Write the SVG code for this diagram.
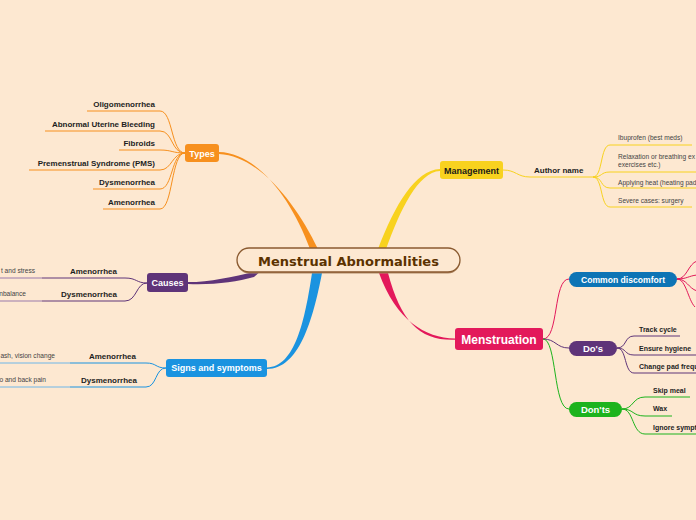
<svg xmlns="http://www.w3.org/2000/svg" width="696" height="520" viewBox="0 0 696 520">
<style>
.leaf{font-family:"Liberation Sans",Arial,sans-serif;font-weight:bold;font-size:8px;fill:#1e1e1e}
.leaf7{font-family:"Liberation Sans",Arial,sans-serif;font-weight:bold;font-size:7px;fill:#1e1e1e}
.sub{font-family:"Liberation Sans",Arial,sans-serif;font-size:6.6px;fill:#444}
.nt{font-family:"Liberation Sans",Arial,sans-serif;font-weight:bold;fill:#fff;text-anchor:middle}
.ln{fill:none;stroke-width:1}
.o{stroke:#f7901e}.y{stroke:#f8d21f}.p{stroke:#5f3479}.pl{stroke:#9a7aab}.b{stroke:#1a93e0}.bl{stroke:#6fb6e8}.r{stroke:#e3195b}.g{stroke:#1db31d}
</style>
<rect width="696" height="520" fill="#fde8d1"/>
<g id="connectors">
  <path d="M310,249 C292,200 258,153 219,152 L219,154 C260,156 297,205 318,249 Z" fill="#f7901e"/>
  <path d="M378,249 C395,205 415,170 440,169 L440,171 C418,172 400,210 386,249 Z" fill="#f8d21f"/>
  <path d="M262,270 C236,276 212,282 188,282 L188,284 C214,285 236,282 254,277 Z" fill="#5f3479"/>
  <path d="M312,273 C305,320 295,367 267,367.5 L267,369 C299,369 313,320 322,273 Z" fill="#1a93e0"/>
  <path d="M379,273 C396,320 425,338 455,338.5 L455,339.8 C420,341 401,322 388,273 Z" fill="#e3195b"/>
  <path class="ln o" d="M87,111 H160 C173,111 171,153 185,153"/>
  <path class="ln o" d="M45,131 H160 C173,131 171,153 185,153"/>
  <path class="ln o" d="M119,150 H160 C172,150 172,153 185,153"/>
  <path class="ln o" d="M29,170 H160 C172,170 172,153 185,153"/>
  <path class="ln o" d="M93,189 H160 C173,189 171,153 185,153"/>
  <path class="ln o" d="M103,209 H160 C173,209 171,153 185,153"/>
  <path class="ln pl" d="M0,278 H42"/>
  <path class="ln p" d="M42,278 H125 C137,278 136,283 147,283"/>
  <path class="ln pl" d="M0,301 H42"/>
  <path class="ln p" d="M42,301 H125 C137,301 136,283 147,283"/>
  <path class="ln bl" d="M0,363 H70"/>
  <path class="ln b" d="M70,363 H146 C157,363 155,368 166,368"/>
  <path class="ln bl" d="M0,387 H70"/>
  <path class="ln b" d="M70,387 H146 C157,387 155,368 166,368"/>
  <path class="ln y" d="M503,170 C516,170 517,177 530,177 H593"/>
  <path class="ln y" d="M593,177 C603,177 600,145 610,145 H692"/>
  <path class="ln y" d="M593,177 C603,177 600,172 610,172 H696"/>
  <path class="ln y" d="M593,177 C603,177 600,188 610,188 H696"/>
  <path class="ln y" d="M593,177 C603,177 600,207 610,207 H692"/>
  <path class="ln r" d="M543,339 C559,339 553,279 569,279"/>
  <path class="ln p" d="M543,339 C556,339 556,348 569,348"/>
  <path class="ln g" d="M543,339 C557,339 553,409 569,409"/>
  <path class="ln r" d="M677,279 C687,279 688,264 697,261"/>
  <path class="ln r" d="M677,279 C687,279 688,276 697,275"/>
  <path class="ln r" d="M677,279 C687,279 688,288 697,291"/>
  <path class="ln r" d="M677,279 C686,279 688,300 695,307"/>
  <path class="ln p" d="M617,348 C627,348 624,336 634,336 H680"/>
  <path class="ln p" d="M617,348 C627,348 624,355 634,355 H696"/>
  <path class="ln p" d="M617,348 C627,348 624,373 634,373 H696"/>
  <path class="ln g" d="M622,409 C634,409 632,397 645,397 H690"/>
  <path class="ln g" d="M622,409 C634,409 632,416 645,416 H672"/>
  <path class="ln g" d="M622,409 C634,409 632,434 645,434 H696"/>
</g>
<g id="center">
  <rect x="237" y="249.5" width="223" height="24" rx="12" fill="#b08a66"/>
  <rect x="237" y="248" width="223" height="24" rx="12" fill="#fde8d1" stroke="#8a5a30" stroke-width="1.3"/>
  <text x="348.5" y="266" text-anchor="middle" font-family="'DejaVu Sans',sans-serif" font-weight="bold" font-size="13" fill="#5b3200">Menstrual Abnormalities</text>
</g>
<g id="types">
  <rect x="185" y="144" width="34" height="18" rx="3" fill="#f7901e"/>
  <text class="nt" x="202" y="156.5" font-size="9">Types</text>
</g>
<g id="types-leaves">
  <text class="leaf" x="155" y="107" text-anchor="end">Oligomenorrhea</text>
  <text class="leaf" x="155" y="127" text-anchor="end">Abnormal Uterine Bleeding</text>
  <text class="leaf" x="155" y="146" text-anchor="end">Fibroids</text>
  <text class="leaf" x="155" y="166" text-anchor="end">Premenstrual Syndrome (PMS)</text>
  <text class="leaf" x="155" y="185" text-anchor="end">Dysmenorrhea</text>
  <text class="leaf" x="155" y="205" text-anchor="end">Amenorrhea</text>
</g>
<g id="causes">
  <rect x="147" y="273" width="41" height="19" rx="3" fill="#5f3479"/>
  <text class="nt" x="167.5" y="285.5" font-size="9">Causes</text>
</g>
<g id="causes-leaves">
  <text class="leaf" x="117" y="274" text-anchor="end">Amenorrhea</text>
  <text class="leaf" x="117" y="297" text-anchor="end">Dysmenorrhea</text>
  <text class="sub" x="35" y="273" text-anchor="end">t and stress</text>
  <text class="sub" x="26" y="296" text-anchor="end">nbalance</text>
</g>
<g id="signs">
  <rect x="166" y="359" width="101" height="18" rx="3" fill="#1a93e0"/>
  <text class="nt" x="216.5" y="371" font-size="9">Signs and symptoms</text>
</g>
<g id="signs-leaves">
  <text class="leaf" x="136" y="359" text-anchor="end">Amenorrhea</text>
  <text class="leaf" x="137" y="382.5" text-anchor="end">Dysmenorrhea</text>
  <text class="sub" x="55" y="358" text-anchor="end">ash, vision change</text>
  <text class="sub" x="46" y="382" text-anchor="end">o and back pain</text>
</g>
<g id="management">
  <rect x="440" y="161" width="63" height="18" rx="3" fill="#f8d21f"/>
  <text x="471.5" y="173.5" text-anchor="middle" font-family="'Liberation Sans',Arial,sans-serif" font-weight="bold" font-size="9" fill="#1a1a1a">Management</text>
</g>
<g id="author">
  <text class="leaf" x="534" y="172.5">Author name</text>
</g>
<g id="management-leaves">
  <text class="sub" x="618" y="140">Ibuprofen (best meds)</text>
  <text class="sub" x="618" y="159">Relaxation or breathing ex</text>
  <text class="sub" x="618" y="166.5">exercises etc.)</text>
  <text class="sub" x="618" y="185">Applying heat (heating pad)</text>
  <text class="sub" x="618" y="203">Severe cases: surgery</text>
</g>
<g id="menstruation">
  <rect x="455" y="328" width="88" height="22" rx="3" fill="#e3195b"/>
  <text class="nt" x="499" y="343.5" font-size="12">Menstruation</text>
</g>
<g id="common">
  <rect x="569" y="272" width="108" height="15" rx="7.5" fill="#0d74b5"/>
  <text class="nt" x="623" y="282.5" font-size="8.6">Common discomfort</text>
</g>
<g id="dos">
  <rect x="569" y="341" width="48" height="15" rx="7.5" fill="#5f3479"/>
  <text class="nt" x="593" y="352" font-size="9.5">Do's</text>
</g>
<g id="donts">
  <rect x="569" y="402" width="53" height="15" rx="7.5" fill="#1db31d"/>
  <text class="nt" x="595.5" y="413" font-size="9.5">Don'ts</text>
</g>
<g id="dos-leaves">
  <text class="leaf7" x="639" y="332">Track cycle</text>
  <text class="leaf7" x="639" y="350.5">Ensure hygiene</text>
  <text class="leaf7" x="639" y="368.5">Change pad frequently</text>
</g>
<g id="donts-leaves">
  <text class="leaf7" x="653" y="392.5">Skip meal</text>
  <text class="leaf7" x="653" y="411">Wax</text>
  <text class="leaf7" x="653" y="429.5">Ignore symptoms</text>
</g>
</svg>
